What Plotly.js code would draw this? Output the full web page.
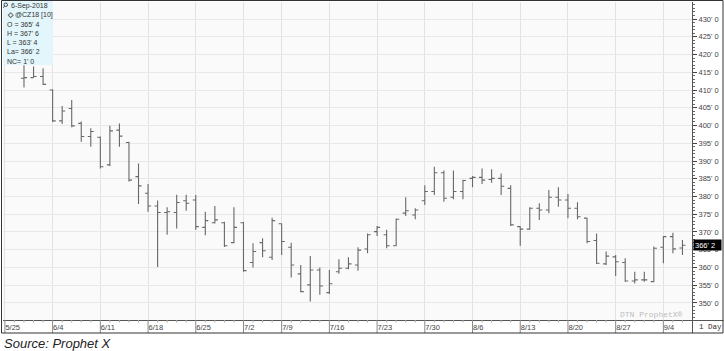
<!DOCTYPE html>
<html>
<head>
<meta charset="utf-8">
<script src="https://cdn.plot.ly/plotly-3.0.1.min.js"></script>
<style>html,body{margin:0;padding:0;background:#fff;}#chart{width:724px;height:351px;}</style>
</head>
<body>
<div id="chart"></div>
<script>
// ---- DATA ----
const tradingDays = ["5/25","5/29","5/30","5/31","6/1","6/4","6/5","6/6","6/7","6/8","6/11","6/12","6/13","6/14","6/15","6/18","6/19","6/20","6/21","6/22","6/25","6/26","6/27","6/28","6/29","7/2","7/3","7/5","7/6","7/9","7/10","7/11","7/12","7/13","7/16","7/17","7/18","7/19","7/20","7/23","7/24","7/25","7/26","7/27","7/30","7/31","8/1","8/2","8/3","8/6","8/7","8/8","8/9","8/10","8/13","8/14","8/15","8/16","8/17","8/20","8/21","8/22","8/23","8/24","8/27","8/28","8/29","8/30","8/31","9/4","9/5","9/6"];
const barDays = ["5/30","5/31","6/1","6/4","6/5","6/6","6/7","6/8","6/11","6/12","6/13","6/14","6/15","6/18","6/19","6/20","6/21","6/22","6/25","6/26","6/27","6/28","6/29","7/2","7/3","7/5","7/6","7/9","7/10","7/11","7/12","7/13","7/16","7/17","7/18","7/19","7/20","7/23","7/24","7/25","7/26","7/27","7/30","7/31","8/1","8/2","8/3","8/6","8/7","8/8","8/9","8/10","8/13","8/14","8/15","8/16","8/17","8/20","8/21","8/22","8/23","8/24","8/27","8/28","8/29","8/30","8/31","9/4","9/5","9/6"];
const openP  = [413.3,413.5,413.8,410.0,401.3,404.8,400.6,396.9,396.7,388.9,398.7,395.2,385.6,380.9,377.3,375.5,375.5,378.8,379.0,371.3,372.6,372.6,367.0,372.6,361.4,367.0,362.9,372.3,365.7,358.2,355.1,359.3,352.9,358.8,359.8,360.7,365.2,370.1,369.2,366.1,375.3,374.8,378.8,381.4,386.7,379.8,381.4,385.1,385.4,384.8,385.1,382.3,371.5,370.8,376.7,376.2,379.8,379.0,376.7,373.9,367.6,361.0,363.0,361.4,356.2,356.5,356.0,365.7,368.7,365.5];
const highP  = [417.0,416.6,416.1,410.2,405.5,407.2,401.1,399.2,396.9,399.9,400.6,395.4,389.3,383.5,378.9,377.0,380.5,380.5,380.4,375.7,377.3,372.9,377.0,372.8,366.8,368.2,374.0,372.4,367.0,360.7,363.2,360.0,359.3,362.3,362.9,365.7,369.6,371.7,370.6,373.8,379.8,376.7,383.2,388.4,387.3,387.3,384.7,385.8,387.9,387.7,386.5,383.2,371.6,377.0,378.1,381.8,382.6,380.7,378.4,374.0,369.6,364.5,363.5,362.6,358.8,358.8,365.9,368.9,369.8,367.75];
const lowP   = [410.7,413.5,411.4,401.0,400.4,399.5,395.4,394.0,387.9,388.6,394.0,384.2,377.9,375.7,360.1,369.2,371.0,376.0,370.6,369.1,372.4,365.8,366.8,358.8,360.0,362.9,362.1,363.5,357.2,353.0,350.4,352.3,352.5,358.2,359.5,359.1,364.0,368.9,365.4,366.0,374.5,373.6,377.6,380.4,378.5,379.2,379.2,382.6,383.5,383.9,380.4,371.7,366.1,370.6,373.4,375.3,377.1,373.9,373.6,366.8,361.0,360.7,357.6,356.0,355.5,356.0,355.9,361.2,364.0,363.5];
const closeP = [413.5,413.8,411.6,401.3,404.1,399.9,396.9,398.3,388.4,398.5,397.0,384.6,383.0,377.3,375.5,375.7,378.3,378.1,371.5,373.2,373.4,366.1,371.3,359.1,364.5,364.7,373.2,367.3,360.7,353.2,359.3,354.8,355.4,359.8,361.0,364.9,369.2,371.3,366.1,373.6,376.0,376.2,381.4,386.7,379.5,381.4,384.5,385.4,384.6,385.1,382.9,372.0,370.8,376.7,376.2,379.8,379.0,376.7,374.3,367.3,361.2,363.2,361.6,356.2,356.5,356.5,365.4,368.7,365.25,366.25];
const weekTicks = ["5/25","6/4","6/11","6/18","6/25","7/2","7/9","7/16","7/23","7/30","8/6","8/13","8/20","8/27","9/4"];
const priceTicks = [350,355,360,365,370,375,380,385,390,395,400,405,410,415,420,425,430];
const priceTickText = priceTicks.map(v => v + "' 0");
const symbol = "@CZ18 [10]";
const lastDate = "6-Sep-2018";

// ---- helpers ----
function fmt8(v){ const w = Math.floor(v + 1e-9); const e = Math.round((v - w) * 8); return w + "' " + e; }
const L0 = 3, T0 = 2, PW = 689, PH = 318;
function xp(px){ return (px - L0) / PW; }
function yp(py){ return 1 - (py - T0) / PH; }

const n = barDays.length;
const lastO = openP[n-1], lastH = highP[n-1], lastL = lowP[n-1], lastC = closeP[n-1];
const netChg = lastC - closeP[n-2];

const trace = {
  type: 'ohlc',
  x: barDays, open: openP, high: highP, low: lowP, close: closeP,
  increasing: {line: {color: '#686868', width: 1.1}},
  decreasing: {line: {color: '#686868', width: 1.1}},
  tickwidth: 0.32,
  hoverinfo: 'skip',
  showlegend: false
};

const shapes = [];
// info box
shapes.push({type:'rect', xref:'paper', yref:'paper', x0:xp(3), x1:xp(53), y0:yp(65), y1:yp(0), fillcolor:'rgba(226,245,251,0.95)', line:{width:0}, layer:'above'});
// magnifier icon
shapes.push({type:'circle', xref:'paper', yref:'paper', x0:xp(4), x1:xp(7.5), y0:yp(6.5), y1:yp(3), line:{color:'#444', width:1}, layer:'above'});
shapes.push({type:'line', xref:'paper', yref:'paper', x0:xp(3.2), x1:xp(4.6), y0:yp(7.8), y1:yp(6.1), line:{color:'#444', width:1}, layer:'above'});
// weekly separators in the date strip
weekTicks.forEach(d => {
  const i = tradingDays.indexOf(d);
  shapes.push({type:'line', xref:'x', yref:'paper', x0:i, x1:i, y0:yp(320), y1:yp(333), line:{color:'#8a8a8a', width:1}});
});
// daily minor ticks
tradingDays.forEach((d, i) => {
  if (weekTicks.indexOf(d) >= 0) return;
  shapes.push({type:'line', xref:'x', yref:'paper', x0:i, x1:i, y0:yp(320), y1:yp(322.5), line:{color:'#aaa', width:1}});
});
// corner cell + frame
shapes.push({type:'line', xref:'paper', yref:'paper', x0:xp(692.5), x1:xp(692.5), y0:yp(320), y1:yp(333), line:{color:'#555', width:1}});
shapes.push({type:'line', xref:'paper', yref:'paper', x0:xp(692.5), x1:xp(723.5), y0:yp(320.5), y1:yp(320.5), line:{color:'#555', width:1}});
shapes.push({type:'rect', xref:'paper', yref:'paper', x0:xp(1.5), x1:xp(723), y0:yp(333), y1:yp(0.5), line:{color:'#333', width:1}, fillcolor:'rgba(0,0,0,0)'});

const infoFont = {family:'Liberation Sans, Arial, sans-serif', size:7, color:'#333'};
const infoLines = [
  {t: lastDate, x: 9},
  {t: "<b>◇</b> " + symbol, x: 5},
  {t: "O = " + fmt8(lastO), x: 5},
  {t: "H = " + fmt8(lastH), x: 5},
  {t: "L = " + fmt8(lastL), x: 5},
  {t: "La= " + fmt8(lastC), x: 5},
  {t: "NC= " + fmt8(netChg), x: 5}
];
const annotations = infoLines.map((ln, k) => ({
  xref:'paper', yref:'paper', x: xp(ln.x), y: yp(6 + k * 9.2), xanchor:'left', yanchor:'middle',
  text: ln.t, showarrow:false, font: infoFont
}));
// last price marker
annotations.push({xref:'paper', yref:'y', x: xp(693), y: lastC, xanchor:'left', yanchor:'middle',
  text: fmt8(lastC), showarrow:false, bgcolor:'#000', borderpad:1, width:25, height:8, align:'left',
  font:{family:'Liberation Sans, Arial, sans-serif', size:7.5, color:'#fff'}});
// watermark
annotations.push({xref:'paper', yref:'paper', x: xp(618), y: yp(314.5), xanchor:'left', yanchor:'middle',
  text:'DTN ProphetX®', showarrow:false, font:{family:'Liberation Mono, Courier New, monospace', size:8, color:'#bdbdbd'}});
// 1 Day
annotations.push({xref:'paper', yref:'paper', x: xp(697), y: yp(327), xanchor:'left', yanchor:'middle',
  text:'1 Day', showarrow:false, font:{family:'Liberation Mono, Courier New, monospace', size:7.5, color:'#333'}});
// source
annotations.push({xref:'paper', yref:'paper', x: xp(2), y: yp(343.5), xanchor:'left', yanchor:'middle',
  text:'Source: Prophet X', showarrow:false, font:{family:'Liberation Sans, Arial, sans-serif', size:13, color:'#222', style:'italic'}});

const layout = {
  width: 724, height: 351,
  margin: {l: L0, r: 724 - L0 - PW, t: T0, b: 351 - T0 - PH, pad: 0},
  paper_bgcolor: '#ffffff',
  plot_bgcolor: '#fafafa',
  showlegend: false,
  xaxis: {
    type: 'category',
    categoryorder: 'array', categoryarray: tradingDays,
    range: [-0.2, 72.0],
    tickmode: 'array', tickvals: weekTicks, ticktext: weekTicks,
    ticks: '', ticklabelposition: 'outside right',
    showgrid: true, gridcolor: '#e2e2e2', gridwidth: 1,
    showline: true, linecolor: '#555', linewidth: 1,
    zeroline: false,
    rangeslider: {visible: false},
    tickfont: {family: 'Liberation Sans, Arial, sans-serif', size: 7.5, color: '#444'},
    fixedrange: true
  },
  yaxis: {
    side: 'right',
    range: [345.2, 434.8],
    tickmode: 'array', tickvals: priceTicks, ticktext: priceTickText,
    ticks: 'outside', ticklen: 4, tickcolor: '#444', tickwidth: 1,
    minor: {dtick: 1, tick0: 0, ticks: 'outside', ticklen: 2, tickcolor: '#666', showgrid: false},
    showgrid: true, gridcolor: '#e8e8e8', gridwidth: 1,
    showline: true, linecolor: '#555', linewidth: 1,
    zeroline: false,
    tickfont: {family: 'Liberation Sans, Arial, sans-serif', size: 7.5, color: '#444'},
    fixedrange: true
  },
  shapes: shapes,
  annotations: annotations
};

Plotly.newPlot('chart', [trace], layout, {staticPlot: true, displayModeBar: false});
</script>
</body>
</html>
